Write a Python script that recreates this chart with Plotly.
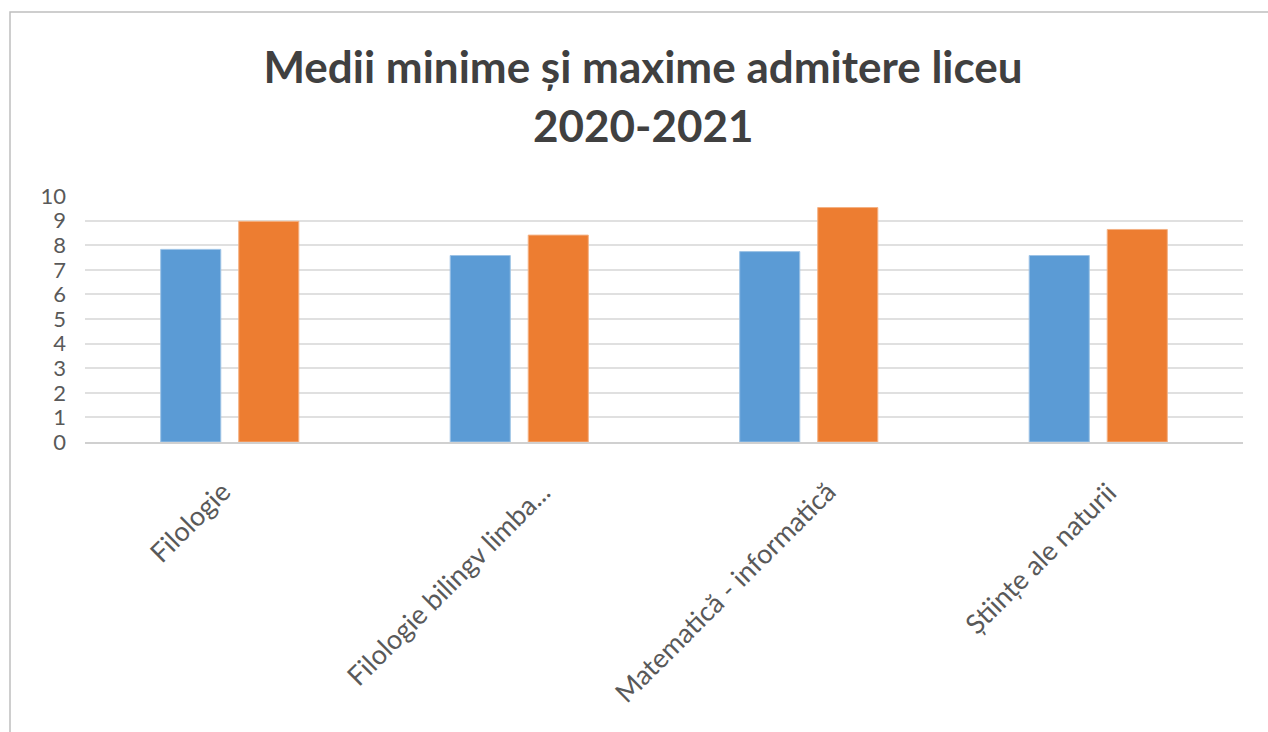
import plotly.graph_objects as go

# date
categorii = ["Filologie", "Filologie bilingv limba...", "Matematică - informatică", "Științe ale naturii"]
medii_minime = [7.83, 7.58, 7.74, 7.58]
medii_maxime = [8.97, 8.41, 9.53, 8.64]
y_ticks = list(range(0, 11))

font_txt = "Lato, 'Noto Sans', sans-serif"

fig = go.Figure()

fig.add_trace(go.Bar(
    x=categorii, y=medii_minime, name="Medie minimă",
    marker=dict(color="#5B9BD5", line=dict(color="#9DC3E6", width=1)),
))
fig.add_trace(go.Bar(
    x=categorii, y=medii_maxime, name="Medie maximă",
    marker=dict(color="#ED7D31", line=dict(color="#F4B183", width=1)),
))

W, H = 1268, 732
L, R, T, B = 85, 25, 196, 290
pw, ph = W - L - R, H - T - B


def px_x(x):
    return (x - L) / pw


def px_y(y):
    return (H - B - y) / ph


# etichetele axei x ca adnotari rotite (ca in Excel, decalate spre dreapta)
etichete_x = [
    dict(text=c, x=c, xref="x", y=0, yref="y", showarrow=False,
         textangle=-45, xanchor="right", yanchor="top",
         xshift=1.75 * len(c) - 6, yshift=-30,
         font=dict(size=27, color="#595959", family=font_txt))
    for c in categorii
]

fig.update_layout(
    width=W, height=H,
    margin=dict(l=L, r=R, t=T, b=B),
    paper_bgcolor="white", plot_bgcolor="white",
    showlegend=False,
    barmode="group", bargap=0.461, bargroupgap=0.23,
    font=dict(family=font_txt, color="#595959"),
    title=dict(
        text="<b>Medii minime și maxime admitere liceu</b>",
        x=643 / W, xref="container", xanchor="center",
        y=1 - 68 / H, yref="container", yanchor="middle",
        font=dict(size=44, color="#404040", family=font_txt),
    ),
    annotations=[dict(
        text="<b>2020-2021</b>", showarrow=False,
        x=px_x(643), xref="paper", xanchor="center",
        y=px_y(125), yref="paper", yanchor="middle",
        font=dict(size=44, color="#404040", family=font_txt),
    )] + etichete_x,
    shapes=[dict(
        type="rect", xref="paper", yref="paper",
        x0=px_x(10), x1=px_x(1290), y0=px_y(760), y1=px_y(12),
        line=dict(color="#BFBFBF", width=1.5), fillcolor="rgba(0,0,0,0)",
        layer="below",
    )],
)

fig.update_yaxes(
    range=[0, 10], tickvals=y_ticks,
    showgrid=True, gridcolor="#E0E0E0", gridwidth=1.5,
    zeroline=False, showline=False,
    tickfont=dict(size=22, color="#595959"),
    ticklabelstandoff=18,
)
fig.update_xaxes(
    showticklabels=False,
    showline=True, linecolor="#D0D0D0", linewidth=1.5,
    ticks="",
)

fig.write_html("out.html", config={"displayModeBar": False},
               post_script="document.body.style.margin='0';")
